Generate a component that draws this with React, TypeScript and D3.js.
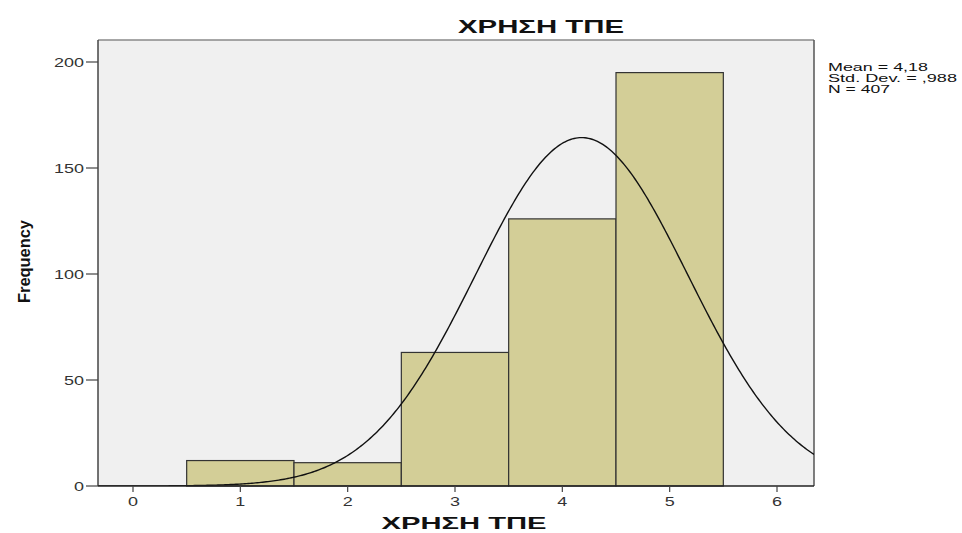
import React from "react";
import * as d3 from "d3";

const categories = [1, 2, 3, 4, 5];
const frequencies = [12, 11, 63, 126, 195];
const xTicks = [0, 1, 2, 3, 4, 5, 6];
const yTicks = [0, 50, 100, 150, 200];
const stats = { mean: 4.18, sd: 0.988, n: 407 };
const statLabels = ["Mean = 4,18", "Std. Dev. = ,988", "N = 407"];
const statWidths = [100, 129, 62];
const titleText = "ΧΡΗΣΗ ΤΠΕ";
const xLabel = "ΧΡΗΣΗ ΤΠΕ";
const yLabel = "Frequency";

function SText({ x, y, sx, anchor, size, fill, weight, children }: any) {
  return (
    <g transform={`translate(${x},${y}) scale(${sx},1)`}>
      <text x={0} y={0} textAnchor={anchor} fontSize={size} fill={fill} fontWeight={weight}>{children}</text>
    </g>
  );
}

export default function App() {
  const W = 962, H = 533;
  const left = 98, right = 814, top = 40, bottom = 486;
  const x = d3.scaleLinear().domain([0, 6]).range([133, 777]);
  const y = d3.scaleLinear().domain([0, 200]).range([bottom, 62]);
  const xMin = x.invert(left), xMax = x.invert(right);

  const pdf = (v: number) =>
    (stats.n * 1) / (stats.sd * Math.sqrt(2 * Math.PI)) *
    Math.exp(-((v - stats.mean) ** 2) / (2 * stats.sd ** 2));
  const pts = d3.range(0, 401).map(i => xMin + (xMax - xMin) * i / 400);
  const line = d3.line<number>().x(d => x(d)).y(d => y(pdf(d)));

  const font = "'Liberation Sans', Arial, sans-serif";
  return (
    <svg width={W} height={H} style={{ position: "absolute", left: 0, top: 0, background: "#fff" }} fontFamily={font}>
      <text x={541} y={33} textAnchor="middle" fontWeight="bold" fontSize={18} fill="#111"
        textLength={166} lengthAdjust="spacingAndGlyphs">{titleText}</text>
      <rect x={left} y={top} width={right - left} height={bottom - top} fill="#f0f0f0" stroke="none" />
      <line x1={left} x2={right} y1={top} y2={top} stroke="#8a8a8a" strokeWidth={1.5} />
      <line x1={right} x2={right} y1={top} y2={bottom} stroke="#555" strokeWidth={1.5} />
      {categories.map((c, i) => (
        <rect key={c} x={x(c - 0.5)} y={y(frequencies[i])} width={x(c + 0.5) - x(c - 0.5)}
          height={y(0) - y(frequencies[i])} fill="#d3ce97" stroke="#333" strokeWidth={1.2} />
      ))}
      <defs>
        <clipPath id="plotclip"><rect x={left} y={top} width={right - left} height={bottom - top} /></clipPath>
      </defs>
      <path d={line(pts) || ""} fill="none" stroke="#111" strokeWidth={1.4} clipPath="url(#plotclip)" />
      <line x1={left} x2={left} y1={top} y2={bottom} stroke="#444" strokeWidth={1.5} />
      <line x1={left} x2={right} y1={bottom} y2={bottom} stroke="#222" strokeWidth={1.5} />
      {yTicks.map(t => (
        <g key={t}>
          <line x1={left - 12} x2={left} y1={y(t)} y2={y(t)} stroke="#444" strokeWidth={1.2} />
          <SText x={left - 14} y={y(t) + 4.5} sx={1.5} anchor="end" size={12} fill="#333">{t}</SText>
        </g>
      ))}
      {xTicks.map(t => (
        <g key={t}>
          <line x1={x(t)} x2={x(t)} y1={bottom} y2={bottom + 6} stroke="#444" strokeWidth={1.2} />
          <SText x={x(t)} y={bottom + 20} sx={1.5} anchor="middle" size={12} fill="#333">{t}</SText>
        </g>
      ))}
      <text x={464} y={529} textAnchor="middle" fontWeight="bold" fontSize={17} fill="#111"
        textLength={165} lengthAdjust="spacingAndGlyphs">{xLabel}</text>
      <text transform={`translate(30,261.5) rotate(-90)`} textAnchor="middle" fontWeight="bold" fontSize={16}
        fill="#111" textLength={83} lengthAdjust="spacingAndGlyphs">{yLabel}</text>
      {statLabels.map((s, i) => (
        <text key={s} x={828} y={71 + i * 11} fontSize={11} fill="#111"
          textLength={statWidths[i]} lengthAdjust="spacingAndGlyphs">{s}</text>
      ))}
    </svg>
  );
}
